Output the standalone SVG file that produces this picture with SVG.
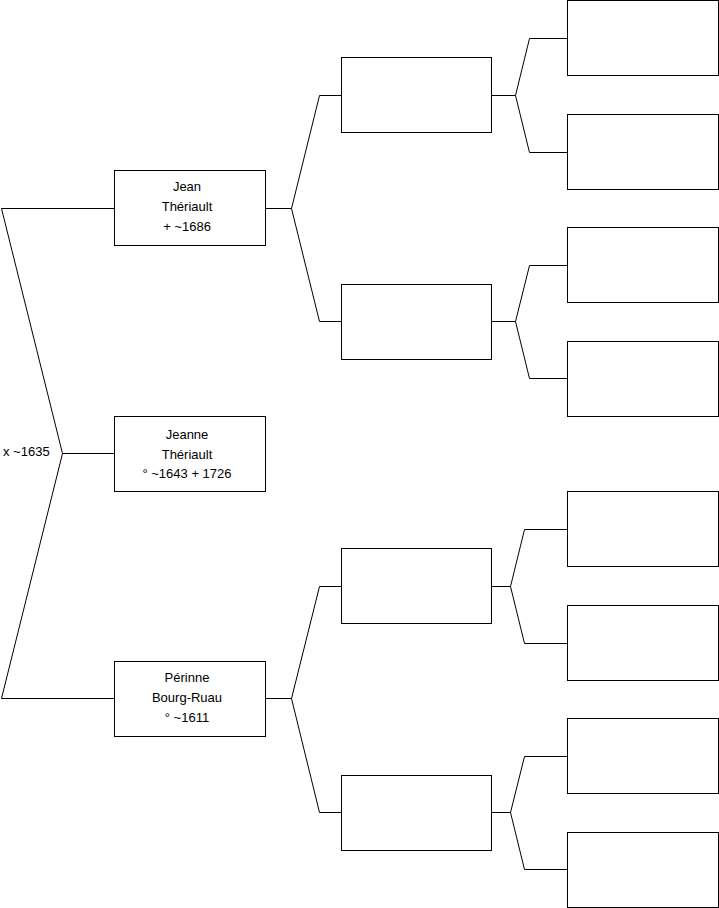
<svg xmlns="http://www.w3.org/2000/svg" width="719" height="908" viewBox="0 0 719 908">
<style>
.box{fill:#fff;stroke:#000;stroke-width:1}
.c{fill:none;stroke:#000;stroke-width:1}
text{font-family:"Liberation Sans",Arial,sans-serif;font-size:13px;fill:#000}
.t{text-anchor:middle}
</style>
<rect width="719" height="908" fill="#fff"/>
<g id="connectors">
<path class="c" d="M114.5,208.5 H1.5 L62.5,453.5 L1.5,698.5 H114.5 M62.5,453.5 H114.5"/>
<path class="c" d="M265.5,208.5 H291.5 M341.5,95.5 H319.5 L291.5,208.5 L319.5,321.5 H341.5"/>
<path class="c" d="M265.5,698.5 H291.5 M341.5,586.5 H319.5 L291.5,698.5 L319.5,812.5 H341.5"/>
<path class="c" d="M491.5,95.5 H515.5 M567.5,38.5 H529.5 L515.5,95.5 L529.5,152.5 H567.5"/>
<path class="c" d="M491.5,321.5 H515.5 M567.5,265.5 H529.5 L515.5,321.5 L529.5,378.5 H567.5"/>
<path class="c" d="M491.5,586.5 H510.5 M567.5,529.5 H524.5 L510.5,586.5 L524.5,643.5 H567.5"/>
<path class="c" d="M491.5,812.5 H510.5 M567.5,756.5 H524.5 L510.5,812.5 L524.5,869.5 H567.5"/>
<text x="3" y="456">x ~1635</text>
</g>
<g id="jean">
<rect class="box" x="114.5" y="170.5" width="151" height="75"/>
<text class="t" x="187" y="191">Jean</text>
<text class="t" x="187" y="211">Thériault</text>
<text class="t" x="187" y="231">+ ~1686</text>
</g>
<g id="jeanne">
<rect class="box" x="114.5" y="416.5" width="151" height="75"/>
<text class="t" x="187" y="439">Jeanne</text>
<text class="t" x="187" y="458.5">Thériault</text>
<text class="t" x="187" y="478">° ~1643 + 1726</text>
</g>
<g id="perinne">
<rect class="box" x="114.5" y="661.5" width="151" height="75"/>
<text class="t" x="187" y="682">Périnne</text>
<text class="t" x="187" y="702">Bourg-Ruau</text>
<text class="t" x="187" y="722">° ~1611</text>
</g>
<g id="g2a"><rect class="box" x="341.5" y="57.5" width="150" height="75"/></g>
<g id="g2b"><rect class="box" x="341.5" y="284.5" width="150" height="75"/></g>
<g id="g2c"><rect class="box" x="341.5" y="548.5" width="150" height="75"/></g>
<g id="g2d"><rect class="box" x="341.5" y="775.5" width="150" height="75"/></g>
<g id="g3a"><rect class="box" x="567.5" y="0.5" width="151" height="75"/></g>
<g id="g3b"><rect class="box" x="567.5" y="114.5" width="151" height="75"/></g>
<g id="g3c"><rect class="box" x="567.5" y="227.5" width="151" height="75"/></g>
<g id="g3d"><rect class="box" x="567.5" y="341.5" width="151" height="75"/></g>
<g id="g3e"><rect class="box" x="567.5" y="491.5" width="151" height="75"/></g>
<g id="g3f"><rect class="box" x="567.5" y="605.5" width="151" height="75"/></g>
<g id="g3g"><rect class="box" x="567.5" y="718.5" width="151" height="75"/></g>
<g id="g3h"><rect class="box" x="567.5" y="832.5" width="151" height="75"/></g>
</svg>
